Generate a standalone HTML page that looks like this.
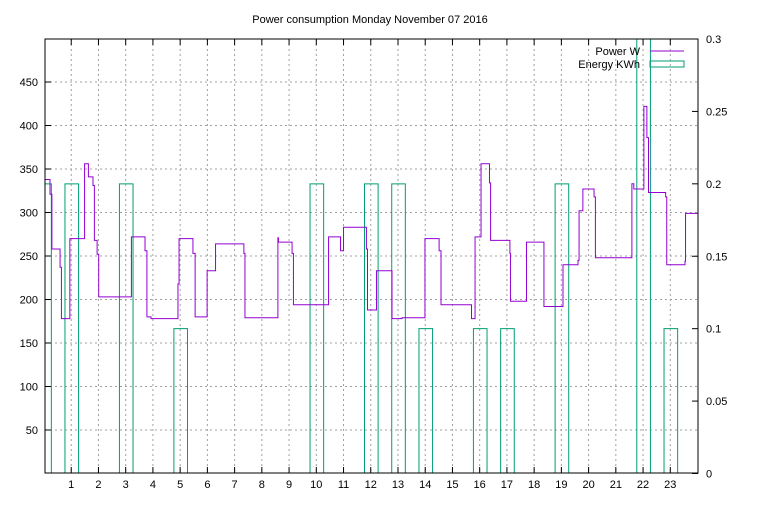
<!DOCTYPE html>
<html><head><meta charset="utf-8"><style>
body{margin:0;background:#fff;}
svg text{font-family:"Liberation Sans",sans-serif;font-size:11px;fill:#000;}
</style></head><body>
<svg id="chart" width="768" height="500" xmlns="http://www.w3.org/2000/svg">
<text x="370" y="23" text-anchor="middle">Power consumption Monday November 07 2016</text>
<defs><clipPath id="pc"><rect x="45" y="39" width="653" height="434"/></clipPath></defs>
<g id="grid"></g><g id="axes"></g>
<g id="bars" clip-path="url(#pc)"></g>
<g id="line" clip-path="url(#pc)"></g>
<rect x="45" y="39" width="653" height="434" fill="none" stroke="#000" stroke-width="1"/>
<g>
<text x="640" y="55" text-anchor="end">Power W</text>
<line x1="650" y1="51" x2="684" y2="51" stroke="#9400d3" stroke-width="1"/>
<text x="640" y="68" text-anchor="end">Energy KWh</text>
<rect x="650" y="61" width="34" height="6" fill="none" stroke="#009e73" stroke-width="1"/>
</g>
</svg>
<script>
const powerTimes=[0,0.22,0.29,0.59,0.64,0.95,1.49,1.63,1.80,1.85,1.95,2.01,3.21,3.71,3.78,3.93,4.92,4.96,5.47,5.55,5.99,6.30,7.34,7.38,8.59,8.61,9.11,9.16,10.45,10.89,11.00,11.84,11.88,12.21,12.78,13.15,13.99,14.51,14.58,15.70,15.83,16.05,16.36,16.40,17.11,17.13,17.72,18.36,19.06,19.61,19.65,19.79,20.20,20.25,21.59,21.66,22.03,22.14,22.20,22.83,22.87,23.54,23.56];
const powerValues=[338,321,258,237,178,270,356,341,331,268,252,203,272,256,180,178,218,270,253,180,233,264,253,179,271,266,253,194,272,256,283,258,188,233,178,179,270,256,194,178,272,356,334,268,253,198,266,192,240,245,302,327,318,248,333,327,422,386,323,318,240,244,299];
const energyHours=[0,1,3,5,10,12,13,14,16,17,19,22,23];
const energyValues=[0.2,0.2,0.2,0.1,0.2,0.2,0.2,0.1,0.1,0.1,0.2,0.31,0.1];
const xTicks=[1,2,3,4,5,6,7,8,9,10,11,12,13,14,15,16,17,18,19,20,21,22,23];
const yTicks=[50,100,150,200,250,300,350,400,450];
const y2Ticks=[0,0.05,0.1,0.15,0.2,0.25,0.3];
const NS="http://www.w3.org/2000/svg";
const X=h=>44+h*27.23;
const Y=v=>473.5-v*0.87;
const Y2=v=>473.5-v*(434.5/0.3);
function mk(tag,attrs,parent){const e=document.createElementNS(NS,tag);for(const k in attrs)e.setAttribute(k,attrs[k]);parent.appendChild(e);return e;}
const grid=document.getElementById('grid'),axes=document.getElementById('axes');
xTicks.forEach(t=>{const x=X(t);
 const g=mk('line',{x1:x,y1:39,x2:x,y2:473,stroke:'#a0a0a0','stroke-dasharray':'2,3'},grid);
 
 
 mk('line',{x1:x,y1:473,x2:x,y2:467,stroke:'#000'},axes);
 mk('line',{x1:x,y1:39,x2:x,y2:45,stroke:'#000'},axes);
 const tx=mk('text',{x:x,y:488,'text-anchor':'middle'},axes);tx.textContent=t;
 
 
});
yTicks.forEach(t=>{const y=Y(t);
 const g=mk('line',{x1:45,y1:y,x2:698,y2:y,stroke:'#a0a0a0','stroke-dasharray':'2,3'},grid);
 
 
 mk('line',{x1:45,y1:y,x2:51,y2:y,stroke:'#000'},axes);
 const tx=mk('text',{x:38,y:y+4,'text-anchor':'end'},axes);tx.textContent=t;
 
 
});
y2Ticks.forEach(t=>{const y=Y2(t);
 mk('line',{x1:692,y1:y,x2:698,y2:y,stroke:'#000'},axes);
 const tx=mk('text',{x:706,y:y+4,'text-anchor':'start'},axes);tx.textContent=t;
 
 
});
const bars=document.getElementById('bars');
energyHours.forEach((h,i)=>{const x0=X(h-0.23),x1=X(h+0.27),y=Y2(energyValues[i]);
 const p=mk('path',{d:`M${x0},473 V${y} H${x1} V473`,fill:'none',stroke:'#009e73','stroke-width':1},bars);
 
 
});
let d='';
powerTimes.forEach((t,i)=>{const x=X(t),y=Y(powerValues[i]);
 if(i===0)d+=`M${x},${y}`;else d+=` V${y}`;
 const nx=i+1<powerTimes.length?X(powerTimes[i+1]):X(24.2);d+=` H${nx}`;});
const pl=mk('path',{d:d,fill:'none',stroke:'#9400d3','stroke-width':1},document.getElementById('line'));


</script>
</body></html>
